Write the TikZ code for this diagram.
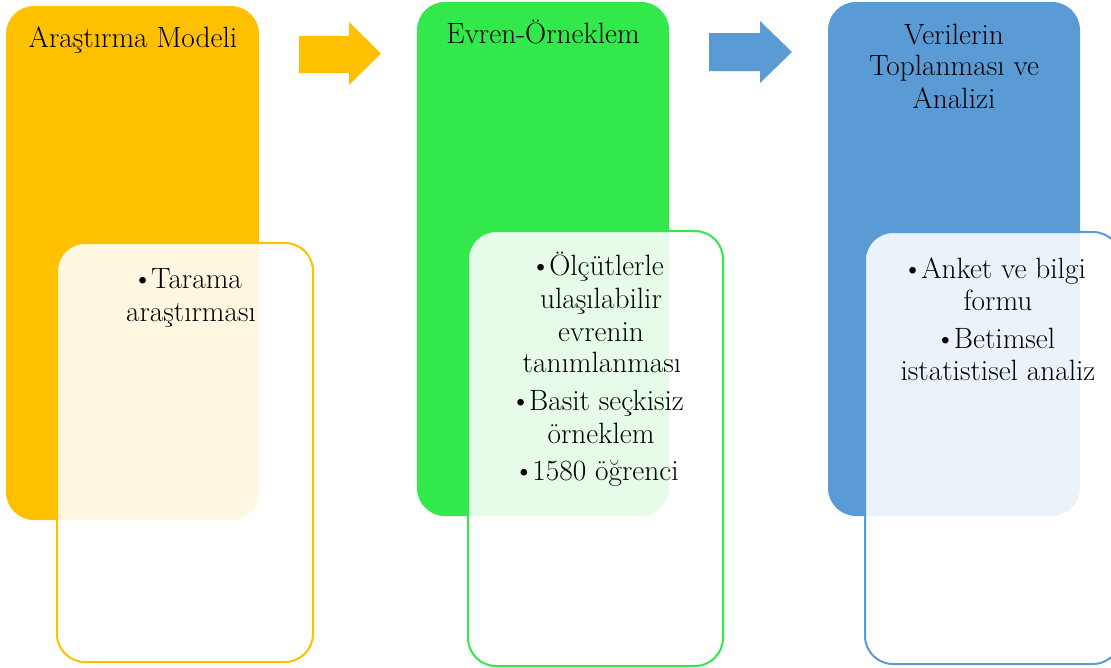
\documentclass[tikz,border=0pt]{standalone}
\usepackage{fontspec}

\definecolor{modelorange}{RGB}{255,192,0}
\definecolor{sampgreen}{RGB}{50,232,75}
\definecolor{datablue}{RGB}{91,155,213}

\newcommand{\blt}{\textbullet\kern-1.5pt}

\tikzset{every picture/.style={line width=0.75pt}}
\tikzset{
  bigbox/.style={rounded corners=21pt},
  innerbox/.style={rounded corners=21pt, fill=white, fill opacity=0.88, line width=1.5pt},
  txt/.style={anchor=base, inner sep=0.75pt, font=\fontsize{22}{26}\selectfont}
}

\begin{document}
\begin{tikzpicture}[x=0.75pt,y=0.75pt,yscale=-1,xscale=1]
\useasboundingbox (0,0) rectangle (1111,668);

%Rounded Rect [id:orange big]
\fill [modelorange, bigbox] (6,6) rectangle (259,520) ;
%Rounded Rect [id:green big]
\fill [sampgreen, bigbox] (417,2) rectangle (669,516) ;
%Rounded Rect [id:blue big]
\fill [datablue, bigbox] (828,2) rectangle (1080,516) ;

%Rounded Rect [id:orange inner]
\draw [modelorange, innerbox] (57,243) rectangle (313,662) ;
%Rounded Rect [id:green inner]
\draw [sampgreen, innerbox] (468,231) rectangle (723,666) ;
%Rounded Rect [id:blue inner]
\draw [datablue, innerbox] (865,232) rectangle (1121,664) ;

%Right Arrow [id:orange arrow]
\fill [modelorange] (299,36) -- (349,36) -- (349,22) -- (381,53.5) -- (349,85) -- (349,73) -- (299,73) -- cycle ;
%Right Arrow [id:blue arrow]
\fill [datablue] (709,33) -- (760,33) -- (760,21) -- (792,52) -- (760,83) -- (760,71) -- (709,71) -- cycle ;

% Text Node
\draw (133,47) node [txt] (modeltitle) {Araştırma Modeli};
% Text Node
\draw (543,43) node [txt] (samptitle) {Evren-Örneklem};
% Text Node
\draw (954,44) node [txt] (datatitlea) {Verilerin};
% Text Node
\draw (954,75) node [txt] (datatitleb) {Toplanması ve};
% Text Node
\draw (954,108) node [txt] (datatitlec) {Analizi};

% Text Node
\draw (187,288) node [txt] (modela) {\blt Tarama};
% Text Node
\draw (191,321) node [txt] (modelb) {araştırması};

% Text Node
\draw (597,275) node [txt] (sampa) {\blt Ölçütlerle};
% Text Node
\draw (601,308) node [txt] (sampb) {ulaşılabilir};
% Text Node
\draw (601,341) node [txt] (sampc) {evrenin};
% Text Node
\draw (602,372) node [txt] (sampd) {tanımlanması};
% Text Node
\draw (597,410) node [txt] (sampe) {\blt Basit seçkisiz};
% Text Node
\draw (601,443) node [txt] (sampf) {örneklem};
% Text Node
\draw (596,480) node [txt] (sampg) {\blt 1580 öğrenci};

% Text Node
\draw (994,278) node [txt] (dataa) {\blt Anket ve bilgi};
% Text Node
\draw (998,310) node [txt] (datab) {formu};
% Text Node
\draw (995,348) node [txt] (datac) {\blt Betimsel};
% Text Node
\draw (998,380) node [txt] (datad) {istatistisel analiz};
\end{tikzpicture}
\end{document}
